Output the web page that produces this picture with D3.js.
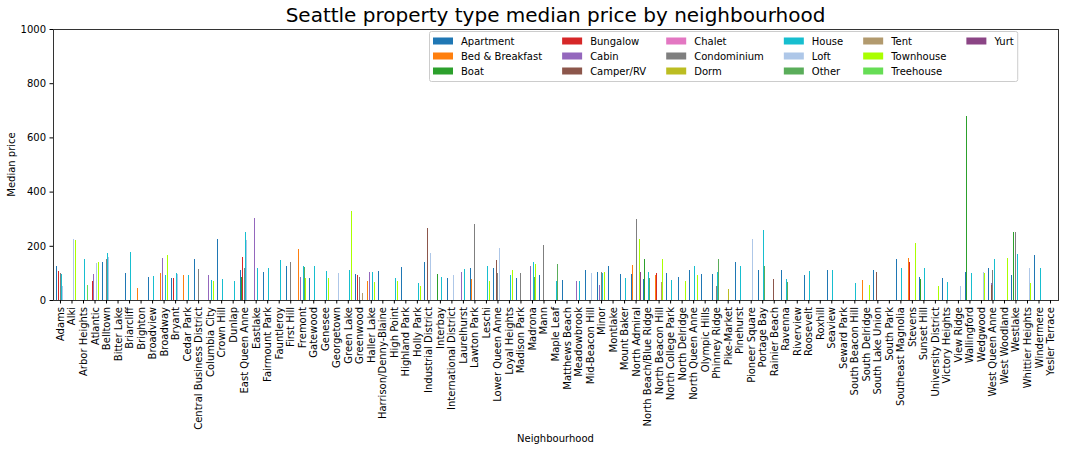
<!DOCTYPE html>
<html><head><meta charset="utf-8">
<script src="https://cdn.jsdelivr.net/npm/d3@7"></script>
<style>
body{margin:0;background:#fff}
text{font-family:"DejaVu Sans",sans-serif;fill:#000}
</style>
</head><body>
<svg id="chart" width="1068" height="451"></svg>
<script>
const neighbourhoods = ["Adams","Alki","Arbor Heights","Atlantic","Belltown","Bitter Lake","Briarcliff","Brighton","Broadview","Broadway","Bryant","Cedar Park","Central Business District","Columbia City","Crown Hill","Dunlap","East Queen Anne","Eastlake","Fairmount Park","Fauntleroy","First Hill","Fremont","Gatewood","Genesee","Georgetown","Green Lake","Greenwood","Haller Lake","Harrison/Denny-Blaine","High Point","Highland Park","Holly Park","Industrial District","Interbay","International District","Laurelhurst","Lawton Park","Leschi","Lower Queen Anne","Loyal Heights","Madison Park","Madrona","Mann","Maple Leaf","Matthews Beach","Meadowbrook","Mid-Beacon Hill","Minor","Montlake","Mount Baker","North Admiral","North Beach/Blue Ridge","North Beacon Hill","North College Park","North Delridge","North Queen Anne","Olympic Hills","Phinney Ridge","Pike-Market","Pinehurst","Pioneer Square","Portage Bay","Rainier Beach","Ravenna","Riverview","Roosevelt","Roxhill","Seaview","Seward Park","South Beacon Hill","South Delridge","South Lake Union","South Park","Southeast Magnolia","Stevens","Sunset Hill","University District","Victory Heights","View Ridge","Wallingford","Wedgwood","West Queen Anne","West Woodland","Westlake","Whittier Heights","Windermere","Yesler Terrace"];

const propertyTypes = ["Apartment","Bed & Breakfast","Boat","Bungalow","Cabin","Camper/RV","Chalet","Condominium","Dorm","House","Loft","Other","Tent","Townhouse","Treehouse","Yurt"];
const typeColors = ["#1f77b4","#ff7f0e","#2ca02c","#d62728","#9467bd","#8c564b","#e377c2","#7f7f7f","#bcbd22","#17becf","#aec7e8","#5aad5a","#b29a6e","#aaff00","#66dd55","#8b4585"];

const apartment = [["Adams",125],["Belltown",140],["Briarcliff",100],["Broadview",85],["Bryant",81],["Central Business District",151],["Crown Hill",225],["East Queen Anne",111],["Fairmount Park",103],["First Hill",125],["Gatewood",81],["Greenwood",96],["Harrison/Denny-Blaine",107],["Highland Park",122],["Industrial District",140],["International District",81],["Lawton Park",118],["Lower Queen Anne",118],["Madison Park",81],["Mann",92],["Matthews Beach",74],["Mid-Beacon Hill",111],["Minor",103],["Montlake",125],["Mount Baker",96],["North Admiral",96],["North Beach/Blue Ridge",77],["North Beacon Hill",70],["North College Park",100],["North Delridge",85],["North Queen Anne",111],["Olympic Hills",96],["Phinney Ridge",96],["Pinehurst",140],["Portage Bay",111],["Ravenna",111],["Roosevelt",92],["Seaview",111],["South Lake Union",111],["Southeast Magnolia",151],["Sunset Hill",85],["Victory Heights",81],["Wallingford",103],["West Queen Anne",118],["Westlake",92],["Windermere",166]];
const bedAndBreakfast = [["Brighton",44],["Broadway",100],["Cedar Park",92],["Fremont",188],["Haller Lake",70],["Lawton Park",77],["North Admiral",129],["North Beacon Hill",92],["South Delridge",74],["Stevens",155]];
const boat = [["East Queen Anne",85],["Interbay",96],["North Beach/Blue Ridge",151],["Sunset Hill",77],["Wallingford",680],["Westlake",251]];
const bungalow = [["Adams",107],["Atlantic",70],["Bryant",81],["East Queen Anne",159],["Greenwood",92],["North Beacon Hill",100],["Stevens",140]];
const cabin = [["Atlantic",96],["Broadway",155],["Columbia City",92],["Eastlake",303],["Fremont",85],["Haller Lake",103],["Laurelhurst",103],["Madrona",125],["Meadowbrook",70],["Minor",55],["West Queen Anne",63]];
const camperRV = [["Industrial District",266],["Lower Queen Anne",148],["Rainier Beach",77],["South Lake Union",103],["West Queen Anne",55]];
const chalet = [];
const condominium = [["Adams",100],["Belltown",151],["Central Business District",114],["East Queen Anne",118],["First Hill",140],["Greenwood",85],["Lawton Park",280],["Lower Queen Anne",100],["Madison Park",100],["Mann",203],["Minor",103],["North Admiral",299],["Phinney Ridge",52],["West Queen Anne",111],["Westlake",251]];
const dorm = [["Pike-Market",41]];
const house = [["Adams",96],["Arbor Heights",151],["Belltown",173],["Briarcliff",177],["Broadview",89],["Broadway",92],["Bryant",100],["Cedar Park",92],["Columbia City",74],["Crown Hill",77],["Dunlap",70],["East Queen Anne",250],["Eastlake",118],["Fairmount Park",118],["Fauntleroy",148],["Fremont",125],["Gatewood",125],["Genesee",107],["Green Lake",111],["Haller Lake",103],["High Point",81],["Holly Park",63],["Interbay",85],["Laurelhurst",114],["Leschi",125],["Loyal Heights",92],["Madrona",140],["Maple Leaf",70],["Meadowbrook",70],["Minor",100],["Mount Baker",81],["North Beach/Blue Ridge",103],["North College Park",74],["North Queen Anne",125],["Phinney Ridge",103],["Pinehurst",125],["Portage Bay",258],["Ravenna",77],["Roosevelt",107],["Seaview",111],["South Beacon Hill",63],["Southeast Magnolia",118],["Sunset Hill",118],["Victory Heights",66],["Wallingford",100],["West Queen Anne",151],["Westlake",170],["Windermere",118]];
const loft = [["Adams",52],["Alki",225],["Atlantic",136],["Belltown",159],["Bryant",96],["East Queen Anne",221],["Georgetown",100],["Industrial District",173],["International District",92],["Lower Queen Anne",192],["Mid-Beacon Hill",100],["Pioneer Square",225],["View Ridge",52],["Wedgwood",103],["Whittier Heights",118]];
const other = [["Fremont",122],["Madrona",85],["Maple Leaf",133],["North Beach/Blue Ridge",81],["Phinney Ridge",151],["Portage Bay",125],["Ravenna",66]];
const tent = [["Greenwood",26],["North Beacon Hill",66]];
const townhouse = [["Alki",221],["Atlantic",140],["Broadway",166],["Columbia City",70],["Fremont",81],["Genesee",81],["Green Lake",328],["Haller Lake",66],["High Point",70],["Holly Park",52],["Leschi",70],["Loyal Heights",111],["Madrona",133],["Minor",103],["North Admiral",225],["North Beacon Hill",151],["North Delridge",70],["North Queen Anne",92],["South Delridge",55],["Stevens",210],["University District",52],["Wedgwood",100],["West Woodland",155],["Whittier Heights",63]];
const treehouse = [["Arbor Heights",55]];
const yurt = [["North Admiral",103]];

const seriesValues = [apartment,bedAndBreakfast,boat,bungalow,cabin,camperRV,chalet,condominium,dorm,house,loft,other,tent,townhouse,treehouse,yurt];
const yTicks = [0,200,400,600,800,1000];

const svg = d3.select("#chart");
const L = 53, R = 1058, T = 29, B = 300;

const x = d3.scaleBand().domain(neighbourhoods).range([L, R]).paddingInner(0.2).paddingOuter(0.25);
const xs = d3.scaleBand().domain(propertyTypes).range([0, x.bandwidth()]);
const y = d3.scaleLinear().domain([0, 1000]).range([B, T]);
const color = d3.scaleOrdinal().domain(propertyTypes).range(typeColors);

// bars
const bars = [];
propertyTypes.forEach((t, i) => {
  seriesValues[i].forEach(([n, v]) => bars.push({t, n, v}));
});
svg.append("g").attr("shape-rendering","crispEdges")
  .selectAll("rect").data(bars).join("rect")
  .attr("x", d => x(d.n) + xs(d.t))
  .attr("y", d => y(d.v))
  .attr("width", Math.max(1, xs.bandwidth()))
  .attr("height", d => y(0) - y(d.v))
  .attr("fill", d => color(d.t));

// axes
const fs = 10;
const yAxis = svg.append("g").attr("transform", `translate(${L},0)`)
  .call(d3.axisLeft(y).tickValues(yTicks).tickFormat(d3.format("d")).tickSize(3.5).tickPadding(3.5));
yAxis.select(".domain").remove();
yAxis.selectAll("text").style("font-size", fs + "px").style("font-family","DejaVu Sans");

const xAxis = svg.append("g").attr("transform", `translate(0,${B})`)
  .call(d3.axisBottom(x).tickSize(3.5).tickSizeOuter(0));
xAxis.select(".domain").remove();
xAxis.selectAll("text")
  .style("font-size", fs + "px").style("font-family","DejaVu Sans")
  .attr("text-anchor","end")
  .attr("transform","rotate(-90)")
  .attr("x", -7).attr("y", 0).attr("dy","0.35em");

// frame
svg.append("rect").attr("x", L).attr("y", T).attr("width", R - L).attr("height", B - T)
  .attr("fill","none").attr("stroke","#000").attr("stroke-width",0.8).attr("shape-rendering","crispEdges");

// title and labels
svg.append("text").attr("x", (L + R) / 2).attr("y", 22).attr("text-anchor","middle")
  .style("font-size","20px").text("Seattle property type median price by neighbourhood");
svg.append("text").attr("transform", `translate(15,${(T + B) / 2}) rotate(-90)`).attr("text-anchor","middle")
  .style("font-size", fs + "px").text("Median price");
svg.append("text").attr("x", (L + R) / 2).attr("y", 442).attr("text-anchor","middle")
  .style("font-size", fs + "px").text("Neighbourhood");

// legend (matplotlib-like layout: handle 20, pad 8, column spacing 20)
const rows = 3, ncol = Math.ceil(propertyTypes.length / rows);
const rowY = [41, 56, 71];
const lg = svg.append("g");
const box = lg.append("rect").attr("rx", 2)
  .attr("fill","#fff").attr("fill-opacity",0.8).attr("stroke","#ccc");
let cx = 433;
for (let c = 0; c < ncol; c++) {
  let maxW = 0;
  for (let r = 0; r < rows; r++) {
    const i = c * rows + r;
    if (i >= propertyTypes.length) break;
    const t = propertyTypes[i];
    const g = lg.append("g").attr("transform", `translate(${cx},${rowY[r]})`);
    g.append("rect").attr("x", 0).attr("y", -3.5).attr("width", 20).attr("height", 7).attr("fill", color(t));
    const tx = g.append("text").attr("x", 28).attr("y", 0).attr("dy","0.35em").style("font-size", fs + "px").text(t);
    maxW = Math.max(maxW, tx.node().getComputedTextLength());
  }
  cx += 28 + maxW + (c < ncol - 1 ? 20 : 0);
}
box.attr("x", 429.5).attr("y", 31.5).attr("width", cx + 4 - 429.5).attr("height", 50);
</script>
</body></html>
